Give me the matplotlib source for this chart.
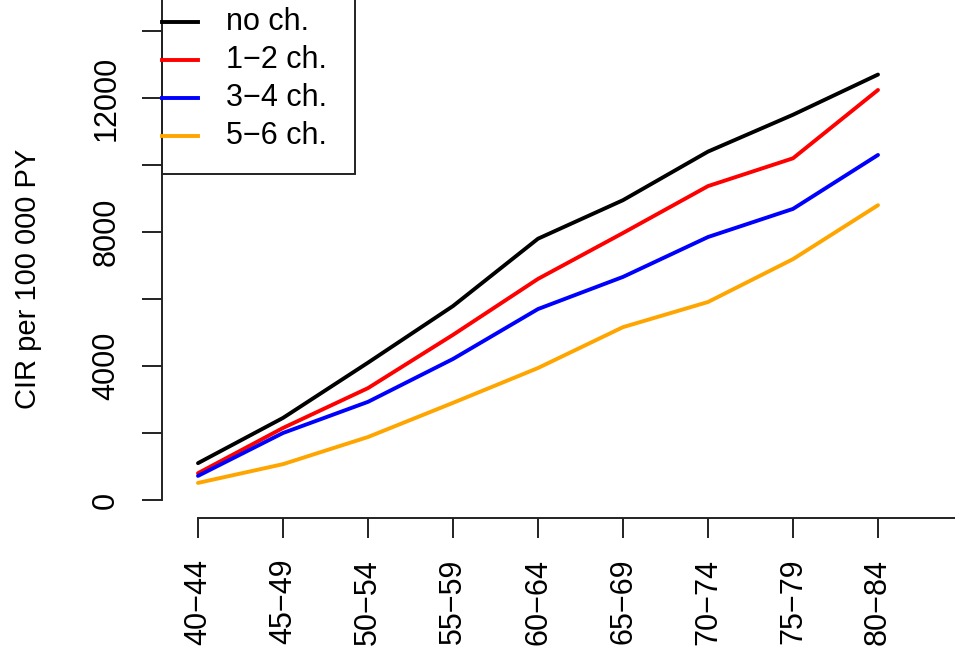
import matplotlib
matplotlib.use("Agg")
import matplotlib.pyplot as plt
from matplotlib.lines import Line2D
from matplotlib.patches import Rectangle

plt.rcParams['font.family'] = ['Liberation Sans', 'DejaVu Sans']

# data
age_groups = ['40\u221244', '45\u221249', '50\u221254', '55\u221259', '60\u221264',
              '65\u221269', '70\u221274', '75\u221279', '80\u221284']
no_ch = [1100, 2450, 4100, 5790, 7800, 8950, 10400, 11500, 12700]
ch_1_2 = [800, 2150, 3340, 4930, 6600, 7970, 9370, 10200, 12240]
ch_3_4 = [720, 2000, 2930, 4210, 5700, 6660, 7850, 8690, 10300]
ch_5_6 = [510, 1070, 1880, 2900, 3940, 5160, 5910, 7190, 8800]

series = {
    'no ch.': (no_ch, 'black'),
    '1\u22122 ch.': (ch_1_2, '#FF0000'),
    '3\u22124 ch.': (ch_3_4, '#0000FF'),
    '5\u22126 ch.': (ch_5_6, '#FFA500'),
}

W, H = 955, 657
fs = 22
fig = plt.figure(figsize=(W / 100, H / 100), dpi=100)

# axes box in pixels: left 162, right 955, top 0, bottom 518
ax = fig.add_axes([162 / W, 1 - 518 / H, (955 - 162) / W, 518 / H])
x = list(range(len(age_groups)))
for name, (vals, col) in series.items():
    ax.plot(x, vals, color=col, lw=2.8, solid_capstyle='round')

# x: index 0 at px 198, 8 at px 878 -> 85 px/unit
ax.set_xlim(-(198 - 162) / 85, 8 + (955 - 878) / 85)
# y: 0 at px 500, 2000 per 67 px
upp = 2000 / 67
ax.set_ylim(-18 * upp, 500 * upp)

for s in ['top', 'right']:
    ax.spines[s].set_visible(False)
ax.spines['left'].set_bounds(0, 14000)
ax.spines['bottom'].set_bounds(0, ax.get_xlim()[1])
for s in ['left', 'bottom']:
    ax.spines[s].set_linewidth(1.4)
    ax.spines[s].set_color('#222222')

ax.set_yticks(range(0, 14001, 2000))
ax.set_yticklabels(['0', '', '4000', '', '8000', '', '12000', ''],
                   rotation=90, va='center', fontsize=fs)
ax.set_xticks(x)
ax.set_xticklabels(age_groups, rotation=90, fontsize=fs)
ax.tick_params(axis='both', length=14.4, width=1.4, color='#222222', pad=15)
ax.patch.set_visible(False)

fig.text(28 / W, 1 - 279 / H, 'CIR per 100 000 PY', rotation=90,
         ha='center', va='center', fontsize=21)

# legend drawn by hand, R style
ax2 = fig.add_axes([0, 0, 1, 1])
ax2.set_xlim(0, W)
ax2.set_ylim(H, 0)
ax2.axis('off')
ax2.add_patch(Rectangle((162, -40), 355 - 162, 174 + 40, fill=False,
                        edgecolor='#222222', lw=1.4))
for i, (name, (vals, col)) in enumerate(series.items()):
    yy = 22 + 38 * i
    ax2.add_line(Line2D([162, 198], [yy, yy], color=col, lw=2.8))
    ax2.text(226, yy, name, fontsize=fs, va='center', ha='left')

fig.savefig('out.png', dpi=100)
